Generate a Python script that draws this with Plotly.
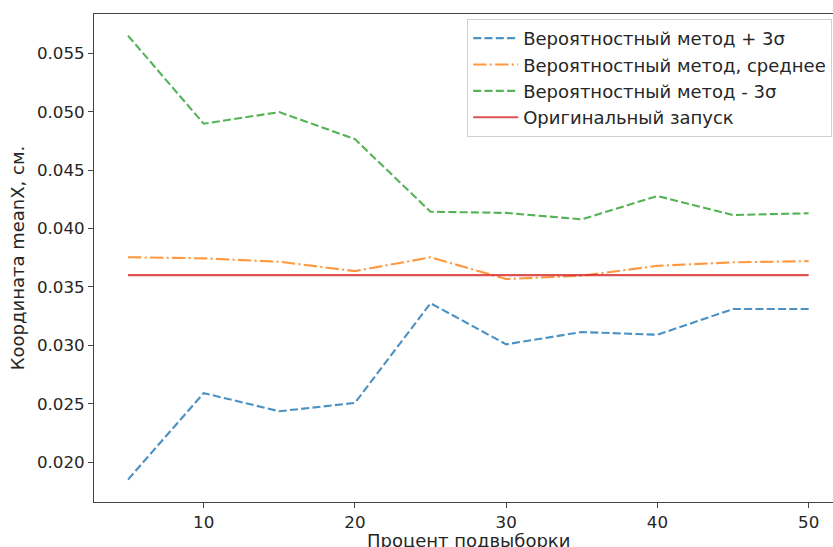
import plotly.graph_objects as go

percent = [5, 10, 15, 20, 25, 30, 35, 40, 45, 50]
plus3s = [0.0185, 0.0259, 0.02435, 0.02506, 0.0336, 0.03008, 0.03113, 0.0309, 0.0331, 0.0331]
mean_v = [0.03754, 0.03744, 0.03715, 0.03635, 0.03753, 0.03567, 0.03595, 0.0368, 0.0371, 0.0372]
minus3s = [0.0565, 0.04897, 0.04996, 0.04765, 0.04143, 0.04133, 0.04078, 0.04278, 0.04115, 0.0413]
original = [0.036] * len(percent)

names = ["Вероятностный метод + 3σ", "Вероятностный метод, среднее",
         "Вероятностный метод - 3σ", "Оригинальный запуск"]
x_title = "Процент подвыборки"
y_title = "Координата meanX, см."

FONT = "DejaVu Sans"
FS_TICK = 16.7
FS_TEXT = 18

fig = go.Figure()
specs = [
    (plus3s, names[0], "#1f77b4", "8px,3.3px"),
    (mean_v, names[1], "#ff7f0e", "13.3px,3.3px,2.1px,3.3px"),
    (minus3s, names[2], "#2ca02c", "8px,3.3px"),
    (original, names[3], "#d62728", "solid"),
]
for ys, nm, col, dash in specs:
    fig.add_trace(go.Scatter(
        x=percent, y=ys, name=nm, mode="lines",
        line=dict(color=col, width=2.1, dash=dash),
        opacity=0.8,
    ))

fig.update_layout(
    width=833, height=547,
    margin=dict(l=94, r=0, t=14, b=45),
    plot_bgcolor="white", paper_bgcolor="white",
    font=dict(family=FONT, size=FS_TICK, color="#262626"),
    showlegend=True,
    legend=dict(
        x=0.505, y=0.99, xanchor="left", yanchor="top",
        bgcolor="rgba(255,255,255,0.8)", bordercolor="#d0d0d0", borderwidth=1,
        font=dict(family=FONT, size=FS_TEXT, color="#262626"),
        itemwidth=45,
    ),
    xaxis=dict(
        range=[2.75, 51.61], tickvals=[10, 20, 30, 40, 50],
        showgrid=False, zeroline=False,
        showline=True, linecolor="#444", linewidth=1, mirror=True,
        ticks="outside", ticklen=5, tickwidth=1, tickcolor="#444",
        automargin=False,
    ),
    yaxis=dict(
        range=[0.01658, 0.05836],
        tickvals=[0.020, 0.025, 0.030, 0.035, 0.040, 0.045, 0.050, 0.055],
        tickformat=".3f",
        showgrid=False, zeroline=False,
        showline=True, linecolor="#444", linewidth=1, mirror=False,
        ticks="outside", ticklen=5, tickwidth=1, tickcolor="#444",
        title=dict(text=y_title, standoff=7, font=dict(size=FS_TEXT)),
        automargin=False,
    ),
    annotations=[dict(
        text=x_title, xref="paper", yref="paper", x=0.5068, y=-0.079,
        xanchor="center", yanchor="middle", showarrow=False,
        font=dict(family=FONT, size=FS_TEXT, color="#262626"),
    )],
)

fig.write_html("out.html")
